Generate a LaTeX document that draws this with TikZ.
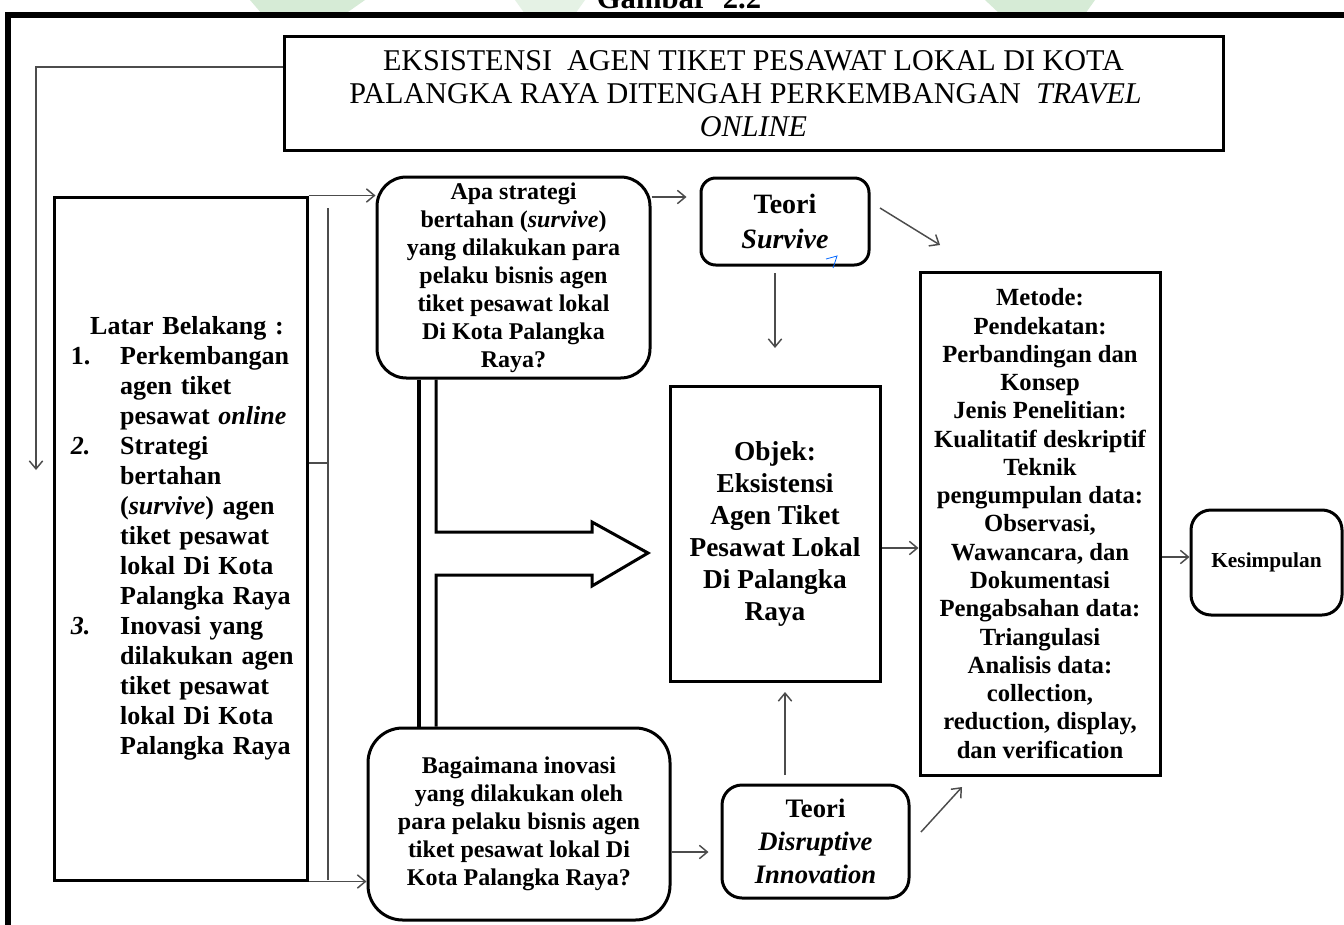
\documentclass[tikz,border=0pt]{standalone}
\usepackage{fontspec}
\setmainfont{Liberation Serif}
\usetikzlibrary{arrows.meta}
\begin{document}
\begin{tikzpicture}[x=0.75pt,y=-0.75pt,
  box/.style={draw=black, line width=2.25pt, inner sep=0pt, align=center, font=\bfseries, fill=white},
  rbox/.style={box, rounded corners=#1},
  rbox/.default=15pt,
  arr/.style={draw=black!70, line width=1.1pt, -{Straight Barb[length=6pt,width=10pt]}},
  ln/.style={draw=black!70, line width=1.1pt},
]
\useasboundingbox (0,0) rectangle (1344,924);
\clip (0,0) rectangle (1344,924);
\fill[white] (0,0) rectangle (1344,924);
% faint watermark
\fill[green!50!black!16] (250,0) -- (365,0) -- (345,14) -- (262,14) -- cycle;
\fill[green!50!black!10] (515,0) -- (585,0) -- (575,14) -- (525,14) -- cycle;
\fill[green!50!black!16] (985,0) -- (1095,0) -- (1085,14) -- (1000,14) -- cycle;
% outer frame
\draw[line width=4.5pt] (8,1000) -- (8,15) -- (1400,15);
\node[font=\bfseries\fontsize{23}{23}\selectfont, anchor=base, inner sep=0pt] (gbr) at (679,9) {Gambar\ \ 2.2};

% title
\node[box, font=\fontsize{22.6}{24.75}\selectfont, minimum width=704.25pt, minimum height=84.75pt] (title) at (753.5,93.5)
 {EKSISTENSI\ \ AGEN TIKET PESAWAT LOKAL DI KOTA\\
  PALANGKA RAYA DITENGAH PERKEMBANGAN\ \ \textit{TRAVEL}\makebox[12pt]{}\\
  \textit{ONLINE}};

% latar belakang
\node[box, minimum width=189.75pt, minimum height=512.25pt, text width=172.5pt, align=left,
      font=\bfseries\fontsize{19.5}{22.5}\selectfont] (latar) at (180.5,538.5)
 {\makebox[172.5pt]{\hspace*{9.75pt}Latar Belakang :}\\
  \hspace*{4pt}\makebox[37pt][l]{1.}Perkembangan\\
  \hspace*{41pt}agen tiket\\
  \hspace*{41pt}pesawat \textit{online}\\
  \hspace*{4pt}\makebox[37pt][l]{\textit{2.}}Strategi\\
  \hspace*{41pt}bertahan\\
  \hspace*{41pt}(\textit{survive}) agen\\
  \hspace*{41pt}tiket pesawat\\
  \hspace*{41pt}lokal Di Kota\\
  \hspace*{41pt}Palangka Raya\\
  \hspace*{4pt}\makebox[37pt][l]{\textit{3.}}Inovasi yang\\
  \hspace*{41pt}dilakukan agen\\
  \hspace*{41pt}tiket pesawat\\
  \hspace*{41pt}lokal Di Kota\\
  \hspace*{41pt}Palangka Raya};

% questions
\node[rbox=22pt, minimum width=204.75pt, minimum height=150.75pt, font=\bfseries\fontsize{18}{21}\selectfont] (apa) at (513.5,277.5)
 {Apa strategi\\bertahan (\textit{survive})\\yang dilakukan para\\pelaku bisnis agen\\tiket pesawat lokal\\Di Kota Palangka\\Raya?};
\node[rbox=26pt, minimum width=226.5pt, minimum height=144pt, font=\bfseries\fontsize{18}{21}\selectfont] (bag) at (519,824)
 {Bagaimana inovasi\\yang dilakukan oleh\\para pelaku bisnis agen\\tiket pesawat lokal Di\\Kota Palangka Raya?};

% theories
\node[rbox=11pt, minimum width=126pt, minimum height=65.25pt, font=\bfseries\fontsize{21}{26}\selectfont] (teoris) at (785,221.5)
 {Teori\\\textit{Survive}};
\node[rbox=15pt, minimum width=140.25pt, minimum height=84.75pt, font=\bfseries\fontsize{20}{24.5}\selectfont] (teorid) at (815.5,841.5)
 {Teori\\\textit{Disruptive}\\\textit{Innovation}};

% object, method, conclusion
\node[box, minimum width=157.5pt, minimum height=221.25pt, font=\bfseries\fontsize{20.5}{24}\selectfont] (objek) at (775,533.5)
 {Objek:\\Eksistensi\\Agen Tiket\\Pesawat Lokal\\Di Palangka\\Raya};
\node[box, minimum width=180pt, minimum height=377.25pt, font=\bfseries\fontsize{18.5}{21.2}\selectfont] (metode) at (1040,523.5)
 {Metode:\\Pendekatan:\\Perbandingan dan\\Konsep\\Jenis Penelitian:\\Kualitatif deskriptif\\Teknik\\pengumpulan data:\\Observasi,\\Wawancara, dan\\Dokumentasi\\Pengabsahan data:\\Triangulasi\\Analisis data:\\collection,\\reduction, display,\\dan verification};
\node[rbox=15pt, minimum width=113.25pt, minimum height=78.75pt, font=\bfseries\fontsize{16}{19}\selectfont] (kes) at (1266.5,562.5)
 {Kesimpulan};

% block arrow
\draw[line width=3pt] (419,0 |- apa.south) -- (419,0 |- bag.north);
\draw[line width=2.25pt, line join=miter] (436,0 |- apa.south) -- (436,532) -- (592,532) -- (592,522) -- (648,553)
  -- (592,586) -- (592,575) -- (436,575) -- (436,0 |- bag.north);

% connectors
\coordinate (vtop) at (328,208);
\coordinate (vbot) at (328,880);
\coordinate (vmid) at (328,463);
\draw[ln] (vtop) -- (vbot);
\draw[ln] (latar.east |- vmid) -- (vmid);
\draw[arr] (latar.north east) -- (latar.north east -| apa.west);
\draw[arr] (latar.south east) -- (latar.south east -| bag.west);

\coordinate (fbA) at (36,67);
\coordinate (fb) at (36,470);
\draw[arr] (title.west |- fbA) -- (fbA) -- (fb);

\coordinate (apaR) at (650,197);
\draw[arr, shorten >=9.75pt] (apa.east |- apaR) -- (teoris.west |- apaR);

\coordinate (d1s) at (880,208);
\coordinate (d1e) at (940,245);
\draw[arr] (d1s) -- (d1e);

\coordinate (dnS) at (775,273);
\coordinate (dnE) at (775,348);
\draw[arr] (dnS) -- (dnE);

\coordinate (upS) at (785,775);
\coordinate (upE) at (785,692);
\draw[arr] (upS) -- (upE);

\coordinate (om) at (900,548);
\draw[arr] (objek.east |- om) -- (metode.west |- om);
\coordinate (mk) at (1175,557);
\draw[arr] (metode.east |- mk) -- (kes.west |- mk);
\coordinate (bt) at (690,852);
\draw[arr, shorten >=9pt] (bag.east |- bt) -- (teorid.west |- bt);

\coordinate (d2s) at (921,832);
\coordinate (d2e) at (962,787);
\draw[arr] (d2s) -- (d2e);

% small blue pen mark
\draw[blue!60!cyan, line width=0.6pt] (826,259) -- (837,256) -- (833,268);
\end{tikzpicture}
\end{document}
